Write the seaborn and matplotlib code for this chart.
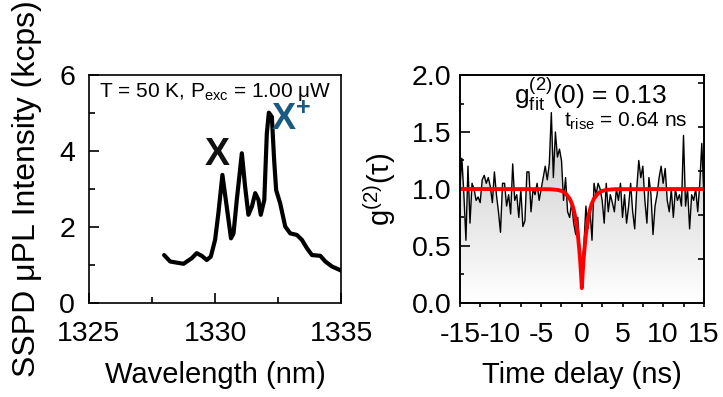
"""
Two-panel figure: micro-PL spectrum (left) and g2 autocorrelation with fit (right).
"""

import numpy as np
import pandas as pd
import matplotlib
matplotlib.use("Agg")
import matplotlib.pyplot as plt
from matplotlib.colors import LinearSegmentedColormap
from matplotlib.ticker import MultipleLocator
import seaborn as sns

# --- spectrum ---
wavelength = [1327.98, 1328.22, 1328.75, 1329.08, 1329.27, 1329.47, 1329.67, 1329.83,
              1330.00, 1330.13, 1330.29, 1330.46, 1330.63, 1330.73, 1330.86, 1331.06,
              1331.19, 1331.32, 1331.46, 1331.59, 1331.72, 1331.81, 1331.95, 1332.05,
              1332.13, 1332.25, 1332.34, 1332.42, 1332.58, 1332.78, 1332.98, 1333.24,
              1333.44, 1333.64, 1333.84, 1334.17, 1334.37, 1334.63, 1335.00]
intensity = [1.26, 1.09, 1.03, 1.18, 1.31, 1.24, 1.13, 1.22,
             1.66, 2.36, 3.37, 2.54, 1.70, 1.83, 2.71, 3.94,
             3.06, 2.32, 2.54, 2.89, 2.71, 2.32, 2.71, 4.46,
             5.01, 4.90, 3.76, 2.97, 2.62, 2.01, 1.83, 1.79,
             1.66, 1.44, 1.26, 1.24, 1.09, 0.96, 0.85]

# --- g2 raw data, 0.25 ns bins from -15 to 15 ns ---
g2_raw = [1.00, 1.27, 0.95, 0.55, 1.20, 0.70, 1.05, 1.00, 0.90, 0.93, 0.88, 1.08,
          1.12, 1.05, 1.10, 1.02, 0.88, 1.15, 0.95, 0.80, 0.62, 1.05, 1.05, 0.85,
          0.95, 0.78, 1.22, 0.90, 0.95, 0.75, 1.00, 0.67, 0.72, 1.15, 1.15, 0.80,
          1.00, 0.95, 1.05, 0.90, 1.00, 1.10, 1.20, 1.08, 1.22, 1.67, 1.10, 1.50,
          1.28, 1.35, 1.25, 0.90, 1.10, 0.80, 0.75, 0.88, 0.70, 0.60, 0.75, 0.45,
          0.30, 0.50, 0.85, 0.65, 0.82, 0.55, 1.05, 0.95, 1.05, 1.00, 0.90, 0.70,
          1.05, 0.80, 0.95, 0.88, 0.80, 1.00, 0.90, 1.05, 0.75, 0.95, 0.70, 0.85,
          1.05, 0.80, 0.65, 1.00, 1.25, 1.10, 1.20, 0.90, 0.70, 1.10, 0.95, 0.60,
          0.85, 0.95, 1.10, 1.20, 1.05, 1.18, 0.90, 0.80, 1.00, 0.75, 1.00, 0.90,
          0.95, 0.85, 1.47, 0.85, 1.00, 0.65, 0.95, 0.90, 1.00, 0.80, 1.05, 1.40,
          0.95]
tau = np.arange(len(g2_raw)) * 0.25 - 15

# --- fit curve (g2(0)=0.13, t_rise=0.64 ns), sampled values ---
fit_tau = [-15, -4, -3, -2.5, -2, -1.5, -1.2, -1.0, -0.8, -0.6, -0.45, -0.3, -0.2, -0.1, 0,
           0.1, 0.2, 0.3, 0.45, 0.6, 0.8, 1.0, 1.2, 1.5, 2, 2.5, 3, 4, 15]
fit_g2 = [1.0, 0.998, 0.992, 0.983, 0.962, 0.916, 0.867, 0.818, 0.751, 0.659, 0.569, 0.456,
          0.364, 0.256, 0.13, 0.256, 0.364, 0.456, 0.569, 0.659, 0.751, 0.818, 0.867, 0.916,
          0.962, 0.983, 0.992, 0.998, 1.0]

right_ticks = [0.386, 0.772, 1.158, 1.544, 1.93]

sns.set_theme(style="ticks")
plt.rcParams["font.family"] = ["Liberation Sans", "DejaVu Sans"]
plt.rcParams["mathtext.fontset"] = "custom"
plt.rcParams["mathtext.rm"] = "Liberation Sans"
plt.rcParams["mathtext.it"] = "Liberation Sans"
plt.rcParams["mathtext.bf"] = "Liberation Sans:bold"
plt.rcParams["axes.linewidth"] = 1.2
plt.rcParams["axes.unicode_minus"] = False
for key in ["text.color", "axes.labelcolor", "xtick.color", "ytick.color", "axes.edgecolor"]:
    plt.rcParams[key] = "black"

fig = plt.figure(figsize=(7.23, 3.97), dpi=100)
ax1 = fig.add_axes([0.123, 0.237, 0.349, 0.574])
ax2 = fig.add_axes([0.636, 0.237, 0.3375, 0.574])

FS = 20.5
LFS = 21

# left panel
spec = pd.DataFrame({"wl": wavelength, "I": intensity})
sns.lineplot(data=spec, x="wl", y="I", ax=ax1, color="black", lw=3.0)
ax1.set_xlim(1325, 1335)
ax1.set_ylim(0, 6)
ax1.xaxis.set_major_locator(MultipleLocator(5))
ax1.xaxis.set_minor_locator(MultipleLocator(2.5))
ax1.yaxis.set_major_locator(MultipleLocator(2))
ax1.yaxis.set_minor_locator(MultipleLocator(1))
ax1.tick_params(which="both", direction="in", labelsize=FS, width=1.2)
ax1.tick_params(which="major", length=7)
ax1.tick_params(which="minor", length=4)
ax1.tick_params(axis="x", which="both", pad=13)
ax1.tick_params(axis="y", which="both", pad=10)
ax1.set_xlabel("Wavelength (nm)", fontsize=LFS, labelpad=10)
ax1.set_ylabel("SSPD μPL Intensity (kcps)", fontsize=23, labelpad=12)
ax1.text(0.5, 0.975, r"T = 50 K, P$_{\mathrm{exc}}$ = 1.00 μW", transform=ax1.transAxes,
         ha="center", va="top", fontsize=15)
ax1.text(1330.1, 3.9, "X", fontsize=27, fontweight="bold", ha="center", va="center",
         color="#111111")
ax1.text(1333.0, 4.8, r"$\mathbf{X^{+}}$", fontsize=26, ha="center", va="center",
         color="#1b5a80")

# right panel
grad = LinearSegmentedColormap.from_list("g", ["#ffffff", "#bdbdbd"])
img = ax2.imshow(np.linspace(0, 1, 256).reshape(-1, 1), extent=[-15, 15, 0, 2],
                 origin="lower", aspect="auto", cmap=grad, zorder=0)
poly = ax2.fill_between(tau, 0, g2_raw, color="none")
img.set_clip_path(poly.get_paths()[0], transform=ax2.transData)

raw = pd.DataFrame({"tau": tau, "g2": g2_raw})
sns.lineplot(data=raw, x="tau", y="g2", ax=ax2, color="black", lw=1.0)
fit = pd.DataFrame({"tau": fit_tau, "g2": fit_g2})
sns.lineplot(data=fit, x="tau", y="g2", ax=ax2, color="#ff0000", lw=2.8)

ax2.set_xlim(-15, 15)
ax2.set_ylim(0, 2)
ax2.xaxis.set_major_locator(MultipleLocator(5))
ax2.xaxis.set_minor_locator(MultipleLocator(2.5))
ax2.yaxis.set_major_locator(MultipleLocator(0.5))
ax2.yaxis.set_minor_locator(MultipleLocator(0.25))
ax2.yaxis.set_major_formatter(plt.FuncFormatter(lambda v, p: f"{v:.1f}"))
ax2.tick_params(which="both", labelsize=FS, width=1.2)
ax2.tick_params(axis="y", which="major", direction="in", length=7, pad=6)
ax2.tick_params(axis="y", which="minor", direction="in", length=3)
ax2.tick_params(axis="x", which="both", direction="out", length=3, pad=11)
ax2.set_xlabel("Time delay (ns)", fontsize=LFS, labelpad=9)
ax2.set_ylabel("g$^{(2)}$(τ)", fontsize=LFS, labelpad=10)

axr = ax2.twinx()
axr.set_ylim(0, 2)
axr.set_yticks(right_ticks)
axr.set_yticklabels([])
axr.tick_params(direction="in", length=4, width=1.2)
axr.grid(False)

ax2.text(1.0, 1.83, r"$\mathrm{g_{fit}^{(2)}(0)}$ = 0.13", fontsize=19, ha="center", va="center")
ax2.text(5.4, 1.59, r"$\mathrm{t_{rise}}$ = 0.64 ns", fontsize=15, ha="center", va="center")

fig.savefig("out.png", dpi=100)
